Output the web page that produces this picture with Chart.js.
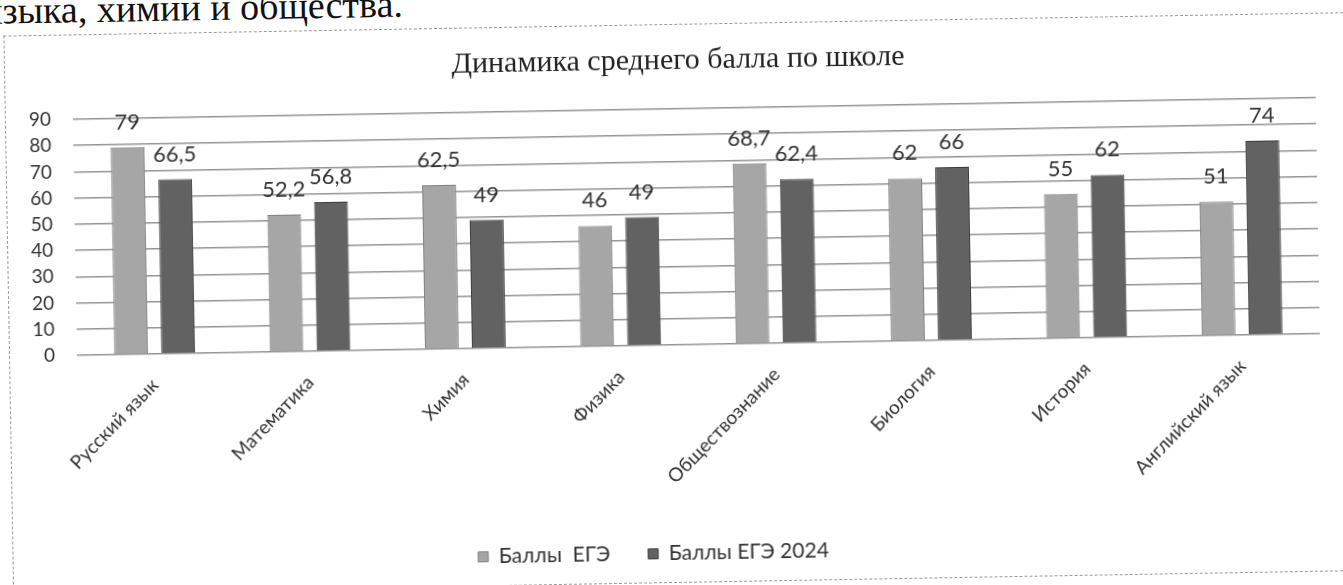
<!DOCTYPE html>
<html><head><meta charset="utf-8">
<script src="https://cdn.jsdelivr.net/npm/chart.js@4.4.1/dist/chart.umd.min.js"></script>
<style>
html,body{margin:0;padding:0;background:#fff;overflow:hidden;width:1343px;height:585px;}
#page{position:absolute;left:0;top:0;width:1343px;height:585px;transform:rotate(-1deg);transform-origin:671px 292px;}
#txt{position:absolute;left:-10px;top:-23px;font-family:"Liberation Serif",serif;font-size:38px;line-height:normal;color:#111;white-space:nowrap;}
#box{position:absolute;left:8px;top:24px;width:1360px;height:559px;border:1px dashed #9a9a9a;box-sizing:border-box;}
canvas{display:block;}
</style></head>
<body>
<div id="page">
<div id="txt">языка, химии и общества.</div>
<div id="box"><canvas id="c" width="1360" height="559"></canvas></div>
</div>
<script>
const title = "Динамика среднего балла по школе";
const categories = ["Русский язык","Математика","Химия","Физика","Обществознание","Биология","История","Английский язык"];
const seriesNames = ["Баллы  ЕГЭ","Баллы ЕГЭ 2024"];
const scoresEge = [79, 52.2, 62.5, 46, 68.7, 62, 55, 51];
const scoresEge2024 = [66.5, 56.8, 49, 49, 62.4, 66, 62, 74];
const yTicks = [0,10,20,30,40,50,60,70,80,90];

const FONT = "Lato, 'Liberation Sans', sans-serif";
const labelPlugin = {
  id:'vals',
  afterDatasetsDraw(chart){
    const ctx = chart.ctx;
    ctx.save();
    ctx.font = "22px " + FONT;
    ctx.fillStyle = "#333333";
    ctx.textAlign = "center";
    ctx.textBaseline = "alphabetic";
    chart.data.datasets.forEach((ds, i) => {
      const meta = chart.getDatasetMeta(i);
      meta.data.forEach((el, j) => {
        ctx.fillText(String(ds.data[j]).replace('.', ','), el.x, el.y - 18);
      });
    });
    ctx.restore();
  }
};
// nudge legend / title horizontally like the original
const boxShift = {
  id:'boxShift',
  afterLayout(chart){
    const lg = chart.legend;
    if (lg) { lg.left -= 26; lg.right -= 26; }
    const tt = chart.titleBlock;
    if (tt) { tt.left += 7; tt.right += 7; }
  }
};

new Chart(document.getElementById('c'), {
  type:'bar',
  data:{
    labels: categories,
    datasets:[
      {label: seriesNames[0], data: scoresEge, backgroundColor:'#a6a6a6', borderColor:'#808080', borderWidth:1,
       categoryPercentage:0.605, barPercentage:0.72},
      {label: seriesNames[1], data: scoresEge2024, backgroundColor:'#626262', borderColor:'#3c3c3c', borderWidth:1,
       categoryPercentage:0.605, barPercentage:0.72}
    ]
  },
  options:{
    responsive:false, animation:false,
    layout:{padding:{left:22, right:50, top:0, bottom:10}},
    plugins:{
      title:{display:true, text:title, color:'#222222', font:{family:"'Liberation Serif', serif", size:30, weight:'normal'}, padding:{top:18, bottom:30}},
      legend:{position:'bottom', labels:{color:'#333333', font:{family:FONT, size:21}, boxWidth:10, boxHeight:10, padding:38}},
      tooltip:{enabled:false}
    },
    scales:{
      x:{
        grid:{display:false}, border:{display:false},
        ticks:{color:'#333333', font:{family:FONT, size:19}, minRotation:45, maxRotation:45, padding:12},
        afterFit(s){ s.height = 160; }
      },
      y:{
        min:0, max:90,
        afterBuildTicks(s){ s.ticks = yTicks.map(v=>({value:v})); },
        grid:{color:'#959595', lineWidth:1.5, drawTicks:false}, border:{display:false},
        ticks:{color:'#333333', font:{family:FONT, size:19}, padding:22},
        afterFit(s){ s.width = 45; }
      }
    }
  },
  plugins:[labelPlugin, boxShift]
});
</script>
</body></html>
